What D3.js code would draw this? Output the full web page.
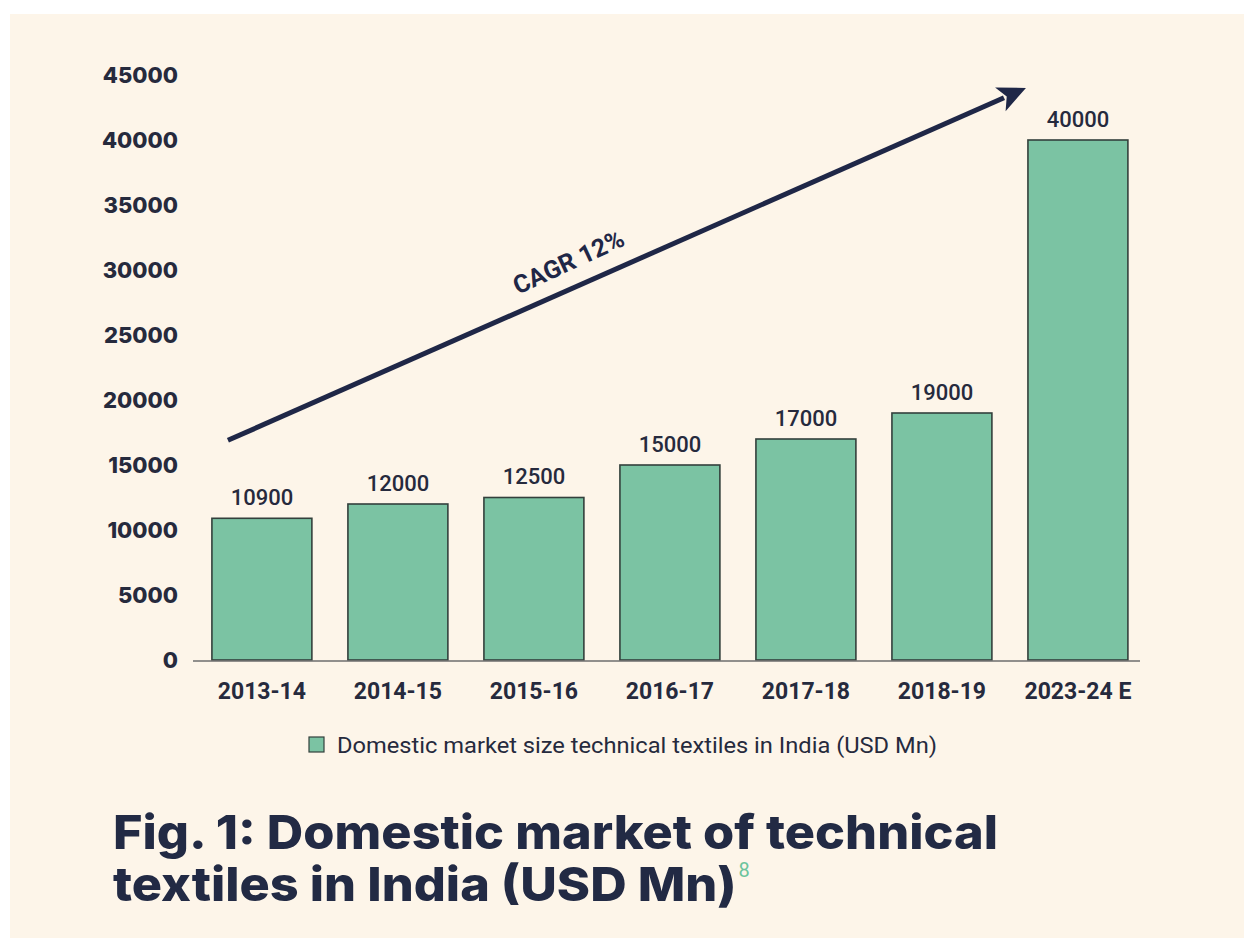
<!DOCTYPE html>
<html>
<head>
<meta charset="utf-8">
<script src="https://cdn.jsdelivr.net/npm/d3@7"></script>
<style>
  html, body { margin: 0; padding: 0; background: #ffffff; }
  svg { display: block; }
</style>
</head>
<body>
<svg id="chart" width="1244" height="945"></svg>
<script>
// ---- data ----
const categories = ["2013-14", "2014-15", "2015-16", "2016-17", "2017-18", "2018-19", "2023-24 E"];
const values = [10900, 12000, 12500, 15000, 17000, 19000, 40000];
const yTicks = [0, 5000, 10000, 15000, 20000, 25000, 30000, 35000, 40000, 45000];
const legendLabel = "Domestic market size technical textiles in India (USD Mn)";
const titleLines = ["Fig. 1: Domestic market of technical", "textiles in India (USD Mn)"];
const titleNote = "8";
const cagrLabel = "CAGR 12%";
// arrow in data terms: [category, fraction across band, value]
const arrowStart = ["2013-14", 0.16, 16900];
const arrowEnd = ["2023-24 E", -0.02, 44000];

// ---- setup ----
const svg = d3.select("#chart");
const W = 1244, H = 945;
const ink = "#262a3d";
const navy = "#1f2747";

svg.append("rect").attr("x", 10).attr("y", 14).attr("width", W - 10).attr("height", 924)
  .attr("fill", "#fdf5e9");

const x = d3.scaleBand().domain(categories).range([193, 1140])
  .paddingInner(0.265).paddingOuter(0.114).align(0.61);
const y = d3.scaleLinear().domain([0, 45000]).range([660, 75]);

// y labels
const yAxis = d3.axisLeft(y).tickValues(yTicks).tickSize(0).tickPadding(0).tickFormat(d3.format("d"));
const gy = svg.append("g").attr("transform", "translate(178,0)").call(yAxis);
gy.select(".domain").remove();
gy.selectAll("text")
  .attr("font-family", "Inter, 'Noto Sans', sans-serif")
  .attr("font-weight", 800).attr("font-size", 22).attr("fill", ink);

// bars
svg.append("g").selectAll("rect").data(values).join("rect")
  .attr("x", (d, i) => x(categories[i]))
  .attr("y", d => y(d))
  .attr("width", x.bandwidth())
  .attr("height", d => y(0) - y(d))
  .attr("fill", "#7bc3a3")
  .attr("stroke", "#33403c")
  .attr("stroke-width", 1.6);

// value labels
svg.append("g").selectAll("text").data(values).join("text")
  .attr("x", (d, i) => x(categories[i]) + x.bandwidth() / 2)
  .attr("y", d => y(d) - 21)
  .attr("dy", "0.36em")
  .attr("text-anchor", "middle")
  .attr("font-family", "Roboto, sans-serif").attr("font-weight", 500).attr("font-size", 22)
  .attr("fill", ink)
  .text(d => d3.format("d")(d));

// x axis
const xAxis = d3.axisBottom(x).tickSize(0).tickPadding(0);
const gx = svg.append("g").attr("transform", `translate(0,${y(0)})`).call(xAxis);
gx.select(".domain").remove();
gx.selectAll("text")
  .attr("y", 31).attr("dy", "0.36em")
  .attr("font-family", "Roboto, sans-serif").attr("font-weight", 700).attr("font-size", 23)
  .attr("fill", ink);
svg.append("line").attr("x1", 193).attr("x2", 1140).attr("y1", y(0) + 1).attr("y2", y(0) + 1)
  .attr("stroke", "#6d6d6d").attr("stroke-width", 1.6);

// legend
const lg = svg.append("g").attr("transform", "translate(309,737)");
lg.append("rect").attr("width", 15).attr("height", 15)
  .attr("fill", "#7bc3a3").attr("stroke", "#33403c").attr("stroke-width", 1.2);
lg.append("text").attr("x", 28).attr("y", 8).attr("dy", "0.36em")
  .attr("font-family", "Roboto, sans-serif").attr("font-size", 22).attr("fill", ink)
  .attr("textLength", 600).attr("lengthAdjust", "spacingAndGlyphs")
  .text(legendLabel);

// CAGR arrow
const ax1 = x(arrowStart[0]) + arrowStart[1] * x.bandwidth(), ay1 = y(arrowStart[2]);
const ax2 = x(arrowEnd[0]) + arrowEnd[1] * x.bandwidth(), ay2 = y(arrowEnd[2]);
const ang = Math.atan2(ay2 - ay1, ax2 - ax1);
const headLen = 28, headHalf = 13;
const bx = ax2 - headLen * Math.cos(ang), by = ay2 - headLen * Math.sin(ang);
svg.append("line").attr("x1", ax1).attr("y1", ay1).attr("x2", bx + 4 * Math.cos(ang)).attr("y2", by + 4 * Math.sin(ang))
  .attr("stroke", navy).attr("stroke-width", 5);
svg.append("path")
  .attr("d", d3.line()([
    [ax2, ay2],
    [bx + headHalf * Math.sin(ang), by - headHalf * Math.cos(ang)],
    [bx + 7 * Math.cos(ang), by + 7 * Math.sin(ang)],
    [bx - headHalf * Math.sin(ang), by + headHalf * Math.cos(ang)]
  ]) + "Z")
  .attr("fill", navy);
const tMid = 0.44;
const cx = ax1 + (ax2 - ax1) * tMid, cy = ay1 + (ay2 - ay1) * tMid;
const deg = ang * 180 / Math.PI;
svg.append("text")
  .attr("transform", `translate(${cx + 17 * Math.sin(ang)},${cy - 17 * Math.cos(ang)}) rotate(${deg - 1})`)
  .attr("text-anchor", "middle")
  .attr("font-family", "Roboto, sans-serif").attr("font-weight", 700).attr("font-size", 25)
  .attr("fill", navy)
  .text(cagrLabel);

// title
const tg = svg.append("g");
const base1 = 849, base2 = 901;
const t1 = tg.append("text").attr("x", 113).attr("y", base1)
  .attr("font-family", "Inter, sans-serif").attr("font-weight", 800).attr("font-size", 47)
  .attr("fill", "#222a44").text(titleLines[0]);
const t2 = tg.append("text").attr("x", 113).attr("y", base2)
  .attr("font-family", "Inter, sans-serif").attr("font-weight", 800).attr("font-size", 47)
  .attr("fill", "#222a44").text(titleLines[1]);
// fit title widths to the reference
const w1 = t1.node().getComputedTextLength();
const k = 885 / w1;
t1.attr("textLength", 885).attr("lengthAdjust", "spacingAndGlyphs");
const w2 = t2.node().getComputedTextLength() * k;
t2.attr("textLength", w2).attr("lengthAdjust", "spacingAndGlyphs");
tg.append("text").attr("x", 113 + w2 + 2).attr("y", base2 - 24)
  .attr("font-family", "Roboto, sans-serif").attr("font-size", 20)
  .attr("fill", "#6cc49c").text(titleNote);
</script>
</body>
</html>
